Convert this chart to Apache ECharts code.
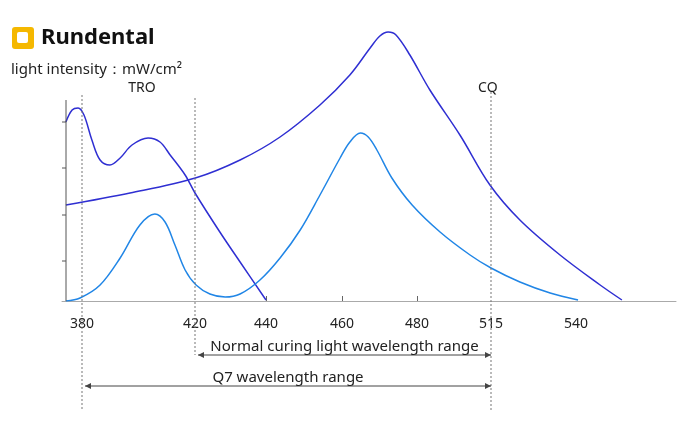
<!DOCTYPE html>
<html><head><meta charset="utf-8">
<script src="https://cdn.jsdelivr.net/npm/echarts@6/dist/echarts.min.js"></script>
<style>html,body{margin:0;padding:0;background:#fff}#c{width:700px;height:426px}</style>
</head><body><div id="c"></div>
<script>
const tickLabels = [380, 420, 440, 460, 480, 515, 540];
const tickPos = [16, 129, 200, 276, 351, 425, 510]; // axis position units per label
const minorTicks = [440, 460, 480];
const yTicks = [40, 86, 133, 179];
const troX = [374.3,376.5,378.6,380.7,383.5,386.4,389.9,393.5,397.7,403.4,407.6,411.2,416.5,420,427.0,432.7,440];
const troY = [179,191,193,186,161,141,136,143,156,163,159,146,126,108,69,39,1];
const broadX = [374.3,397.0,420.1,432.7,443.7,454.2,462.1,467.5,470.1,472.3,474.4,478.1,486.1,500.3,514.5,523.5,535.3,547.1,553.5];
const broadY = [96,108,123,141,164,196,226,253,265,269,266,246,211,166,116,81,46,16,1];
const q7X = [374.3,379.3,386.4,393.5,400.5,405.8,409.4,412.9,416.5,420.3,424.2,428.5,432.7,438.3,443.7,449.0,454.2,459.5,462.1,464.9,467.0,469.3,473.3,478.7,490.9,505.1,515,523.5,532.4,540.6];
const q7Y = [0,3,16,43,76,87,79,56,31,16,7,4,7,21,43,71,106,143,159,168,164,151,123,96,69,46,33,19,8,1];

function toPos(w){
  let i=0; while(i<tickLabels.length-2 && w>tickLabels[i+1]) i++;
  const a=tickLabels[i], b=tickLabels[i+1], pa=tickPos[i], pb=tickPos[i+1];
  return pa+(w-a)*(pb-pa)/(b-a);
}
const pts=(xs,ys)=>xs.map((x,i)=>[toPos(x),ys[i]]);
const dark='#2f2fd2', light='#2186e6', grey='#444';
const FF='Noto Sans';
const chart=echarts.init(document.getElementById('c'));
chart.setOption({
  animation:false,
  grid:{left:62,right:24,top:30,bottom:125},
  xAxis:{type:'value',min:-4,max:610,splitLine:{show:false},
    axisLine:{lineStyle:{color:'#aaa'}},
    axisTick:{customValues:minorTicks.map(toPos),inside:true,length:5,lineStyle:{color:'#666'}},
    axisLabel:{customValues:tickPos,margin:16,color:'#222',fontSize:14,fontFamily:FF,
      formatter:v=>{const i=tickPos.findIndex(p=>Math.abs(p-v)<0.5);return i>=0?tickLabels[i]:'';}}},
  yAxis:{type:'value',min:0,max:271,show:false},
  series:[
    {type:'line',data:pts(troX,troY),smooth:0.35,symbol:'none',lineStyle:{color:dark,width:1.5}},
    {type:'line',data:pts(broadX,broadY),smooth:0.35,symbol:'none',lineStyle:{color:dark,width:1.5}},
    {type:'line',data:pts(q7X,q7Y),smooth:0.35,symbol:'none',lineStyle:{color:light,width:1.5}}
  ]
});
const P=(w,v)=>chart.convertToPixel({gridIndex:0},[toPos(w),v]);
const Pu=(u,v)=>chart.convertToPixel({gridIndex:0},[u,v]);
const g=[];
const line=(a,b,st)=>g.push({type:'line',shape:{x1:a[0],y1:a[1],x2:b[0],y2:b[1]},style:Object.assign({stroke:'#555',lineWidth:1},st),z:10});
const dotted={stroke:'#777',lineDash:[2,2]};
line(Pu(0,0),Pu(0,201),{});
yTicks.forEach(v=>line(Pu(-4,v),Pu(0,v),{}));
line(P(380,206),P(380,-109),dotted);
line(P(420,203),P(420,-54),dotted);
line(P(515,209),P(515,-109),dotted);
function arrow(w1,w2,v,text){
  const a=P(w1,v), b=P(w2,v); a[0]+=3;
  line(a,b,{stroke:grey});
  g.push({type:'polygon',shape:{points:[[a[0],a[1]],[a[0]+6,a[1]-3],[a[0]+6,a[1]+3]]},style:{fill:grey},z:10});
  g.push({type:'polygon',shape:{points:[[b[0],b[1]],[b[0]-6,b[1]-3],[b[0]-6,b[1]+3]]},style:{fill:grey},z:10});
  g.push({type:'text',x:(a[0]+b[0])/2,y:a[1]-1,style:{text:text,fill:'#222',fontSize:15,fontFamily:FF,align:'center',verticalAlign:'bottom'},z:10});
}
arrow(420,515,-54,'Normal curing light wavelength range');
arrow(380,515,-85,'Q7 wavelength range');
const t1=P(401.2,213), t2=P(513.5,213);
g.push({type:'text',x:t1[0],y:t1[1],style:{text:'TRO',fill:'#222',fontSize:14,fontFamily:FF,align:'center',verticalAlign:'middle'}});
g.push({type:'text',x:t2[0],y:t2[1],style:{text:'CQ',fill:'#222',fontSize:14,fontFamily:FF,align:'center',verticalAlign:'middle'}});
g.push({type:'rect',shape:{x:12,y:27,width:22,height:22,r:3},style:{fill:'#f5b800'}});
g.push({type:'rect',shape:{x:17,y:32,width:11,height:11,r:2},style:{fill:'#fff'}});
g.push({type:'text',x:41,y:38,style:{text:'Rundental',fontSize:22,fontWeight:'bold',fill:'#111',fontFamily:FF,verticalAlign:'middle'}});
g.push({type:'text',x:11,y:70,style:{text:'light intensity：mW/cm²',fontSize:15,fill:'#222',fontFamily:FF,verticalAlign:'middle'}});
chart.setOption({graphic:g});
</script></body></html>
